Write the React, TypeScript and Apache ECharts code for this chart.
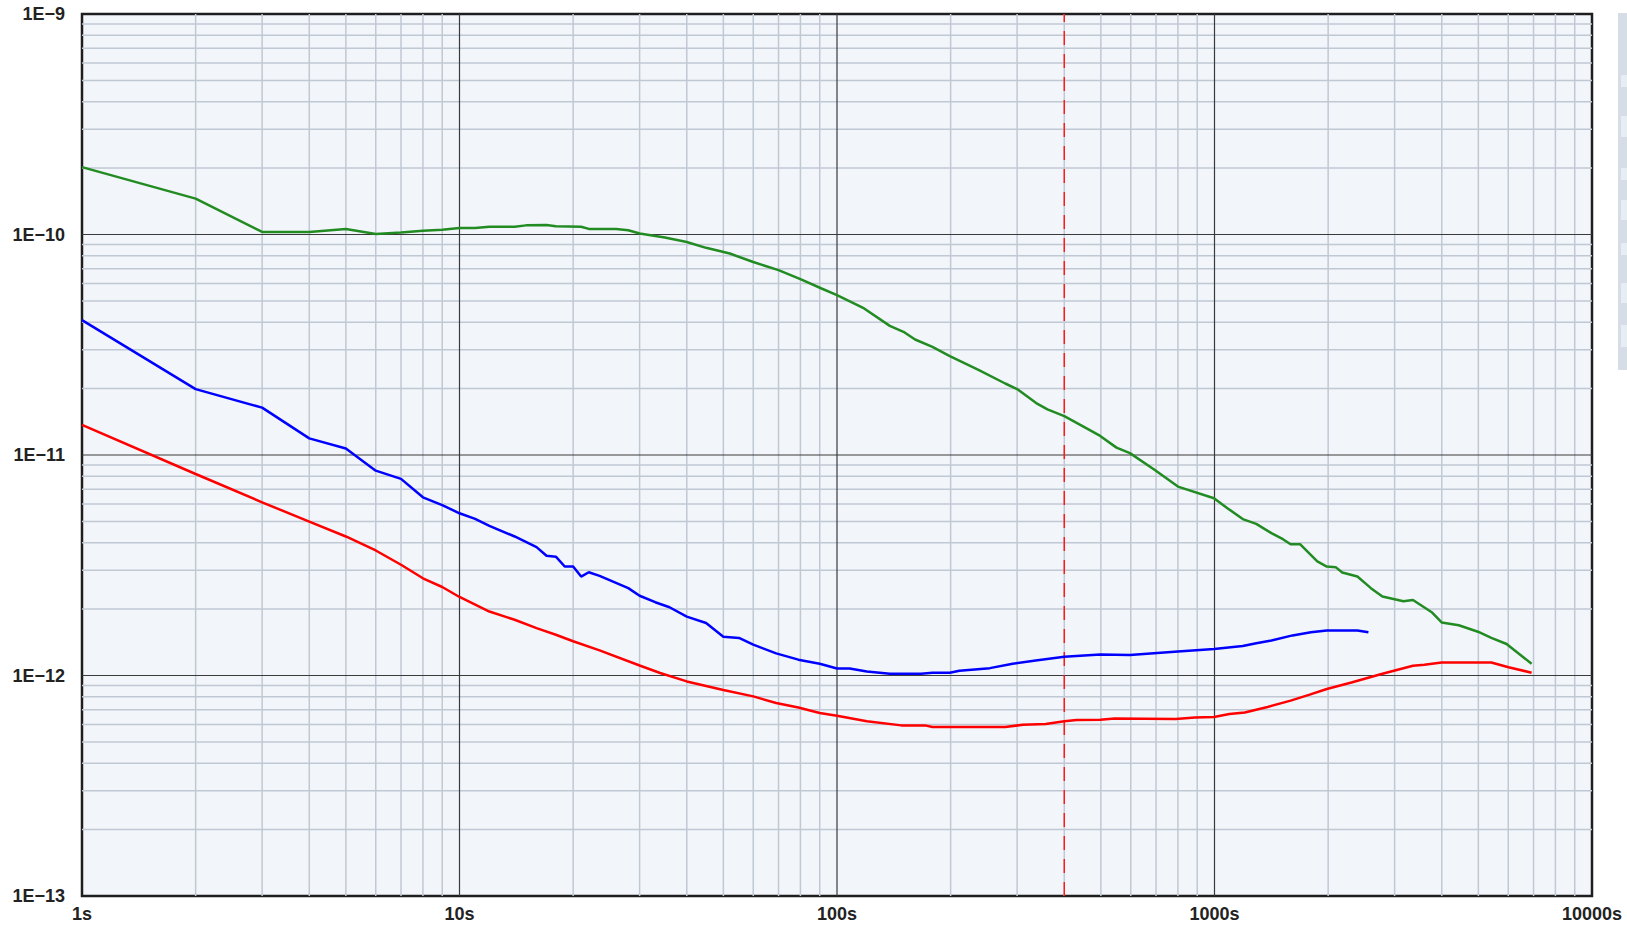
import React, { useEffect, useRef } from "react";
import * as echarts from "echarts";

// ---- data ----
const greenSeries: [number, number][] = [
  [1, 2.02e-10], [2, 1.455e-10], [3, 1.027e-10], [4, 1.027e-10], [5, 1.06e-10], [6, 1.006e-10],
  [7, 1.02e-10], [8, 1.04e-10], [9, 1.05e-10], [10, 1.07e-10], [11, 1.07e-10], [12, 1.085e-10],
  [14, 1.085e-10], [15, 1.1e-10], [17, 1.105e-10], [18, 1.09e-10], [21, 1.085e-10], [22, 1.06e-10],
  [26, 1.06e-10], [28, 1.045e-10], [30, 1.01e-10], [35, 9.7e-11], [40, 9.25e-11], [45, 8.7e-11],
  [52, 8.2e-11], [60, 7.5e-11], [70, 6.89e-11], [80, 6.27e-11], [91, 5.69e-11], [100, 5.31e-11],
  [118, 4.62e-11], [138, 3.85e-11], [150, 3.62e-11], [161, 3.34e-11], [179, 3.09e-11], [199, 2.81e-11],
  [237, 2.43e-11], [279, 2.11e-11], [300, 1.99e-11], [337, 1.72e-11], [361, 1.61e-11], [400, 1.5e-11],
  [441, 1.37e-11], [498, 1.22e-11], [550, 1.08e-11], [597, 1.02e-11], [695, 8.55e-12], [800, 7.19e-12],
  [997, 6.37e-12], [1082, 5.74e-12], [1188, 5.12e-12], [1290, 4.87e-12], [1415, 4.42e-12], [1518, 4.15e-12],
  [1591, 3.94e-12], [1685, 3.94e-12], [1872, 3.29e-12], [1984, 3.12e-12], [2094, 3.1e-12], [2180, 2.93e-12],
  [2391, 2.81e-12], [2596, 2.49e-12], [2785, 2.28e-12], [3165, 2.17e-12], [3355, 2.2e-12], [3772, 1.93e-12],
  [3997, 1.74e-12], [4437, 1.69e-12], [4988, 1.58e-12], [5412, 1.48e-12], [5939, 1.39e-12], [6918, 1.13e-12],
];

const blueSeries: [number, number][] = [
  [1, 4.09e-11], [2, 1.99e-11], [3, 1.64e-11], [4, 1.19e-11], [5, 1.07e-11], [6, 8.49e-12],
  [7, 7.79e-12], [8, 6.43e-12], [9, 5.93e-12], [10, 5.44e-12], [11, 5.13e-12], [12, 4.77e-12],
  [14, 4.27e-12], [16, 3.82e-12], [17, 3.49e-12], [18, 3.46e-12], [19, 3.12e-12], [20, 3.12e-12],
  [21, 2.81e-12], [22, 2.94e-12], [23.5, 2.83e-12], [28, 2.49e-12], [30, 2.3e-12], [33, 2.15e-12],
  [36, 2.04e-12], [40, 1.85e-12], [45, 1.73e-12], [50, 1.5e-12], [55, 1.48e-12], [60, 1.38e-12],
  [69, 1.26e-12], [79, 1.18e-12], [90, 1.13e-12], [100, 1.076e-12], [108, 1.076e-12], [120, 1.043e-12],
  [138, 1.018e-12], [167, 1.018e-12], [179, 1.03e-12], [199, 1.03e-12], [211, 1.05e-12], [254, 1.08e-12],
  [292, 1.13e-12], [336, 1.17e-12], [400, 1.215e-12], [498, 1.245e-12], [597, 1.24e-12], [800, 1.285e-12],
  [997, 1.32e-12], [1188, 1.36e-12], [1290, 1.4e-12], [1415, 1.44e-12], [1610, 1.52e-12], [1800, 1.57e-12],
  [1984, 1.6e-12], [2391, 1.6e-12], [2557, 1.57e-12],
];

const redSeries: [number, number][] = [
  [1, 1.37e-11], [2, 8.2e-12], [3, 6.1e-12], [4, 4.99e-12], [5, 4.27e-12], [6, 3.69e-12],
  [7, 3.18e-12], [8, 2.76e-12], [9, 2.52e-12], [10, 2.27e-12], [12, 1.95e-12], [14, 1.79e-12],
  [16, 1.64e-12], [18, 1.53e-12], [20, 1.43e-12], [23.5, 1.3e-12], [30, 1.11e-12], [34, 1.026e-12],
  [40, 9.4e-13], [50, 8.6e-13], [60, 8.04e-13], [69, 7.5e-13], [79, 7.16e-13], [90, 6.76e-13],
  [100, 6.57e-13], [120, 6.2e-13], [148, 5.94e-13], [171, 5.94e-13], [179, 5.84e-13], [279, 5.84e-13],
  [311, 5.98e-13], [357, 6.03e-13], [400, 6.2e-13], [431, 6.28e-13], [498, 6.3e-13], [544, 6.39e-13],
  [789, 6.35e-13], [888, 6.45e-13], [997, 6.48e-13], [1095, 6.69e-13], [1203, 6.8e-13], [1382, 7.2e-13],
  [1591, 7.69e-13], [1787, 8.19e-13], [1984, 8.69e-13], [2305, 9.3e-13], [2785, 1.018e-12], [3355, 1.107e-12],
  [3597, 1.12e-12], [3997, 1.146e-12], [5412, 1.146e-12], [6010, 1.09e-12], [6918, 1.03e-12],
];

const markerX = 400;

const xMin = 1;
const xMax = 10000;
const yMin = 1e-13;
const yMax = 1e-9;
const xMajor = [10, 100, 1000];
const yMajor = [1e-12, 1e-11, 1e-10];
const xDecades = [1, 10, 100, 1000];
const yDecades = [1e-13, 1e-12, 1e-11, 1e-10];
const minorMultipliers = [2, 3, 4, 5, 6, 7, 8, 9];

export default function App() {
  const ref = useRef<HTMLDivElement>(null);

  useEffect(() => {
    if (!ref.current) return;
    const chart = echarts.init(ref.current, undefined, { renderer: "svg" });

    const xMinor: number[] = [];
    xDecades.forEach((d) => minorMultipliers.forEach((m) => xMinor.push(m * d)));
    const yMinor: number[] = [];
    yDecades.forEach((d) => minorMultipliers.forEach((m) => yMinor.push(+(m * d).toPrecision(3))));

    const fontFamily = "'Liberation Sans', Arial, sans-serif";

    const gridLine = (pts: [number, number][], color: string, width: number, z: number, type: any = "solid") => ({
      type: "line",
      data: pts,
      showSymbol: false,
      silent: true,
      z,
      lineStyle: { color, width, type },
      itemStyle: { color },
      emphasis: { disabled: true },
    });

    const minorSeries = [
      ...xMinor.map((v) => gridLine([[v, yMin], [v, yMax]], "#c0c8d3", 1.5, 1)),
      ...yMinor.map((v) => gridLine([[xMin, v], [xMax, v]], "#c0c8d3", 1.5, 1)),
    ];
    const majorSeries = [
      ...xMajor.map((v) => gridLine([[v, yMin], [v, yMax]], "#3a3a3a", 1.2, 1.5)),
      ...yMajor.map((v) => gridLine([[xMin, v], [xMax, v]], "#3a3a3a", 1.2, 1.5)),
    ];
    const markerSeries = gridLine([[markerX, yMin], [markerX, yMax]], "#ff1a1a", 1.5, 2, [14, 9]);

    const option: any = {
      animation: false,
      grid: {
        left: 82,
        top: 14,
        width: 1510,
        height: 882,
        show: true,
        backgroundColor: "#f2f6fb",
        borderColor: "#1e1e1e",
        borderWidth: 2.5,
      },
      xAxis: {
        type: "log",
        logBase: 10,
        min: xMin,
        max: xMax,
        axisLine: { show: false },
        axisTick: { show: false },
        splitLine: { show: false },
        axisLabel: {
          margin: 9,
          fontSize: 18,
          fontWeight: "bold",
          fontFamily,
          color: "#222",
          formatter: (v: number) => `${Math.round(v)}s`,
        },
      },
      yAxis: {
        type: "log",
        logBase: 10,
        min: yMin,
        max: yMax,
        axisLine: { show: false },
        axisTick: { show: false },
        splitLine: { show: false },
        axisLabel: {
          margin: 17,
          fontSize: 18,
          fontWeight: "bold",
          fontFamily,
          color: "#222",
          formatter: (v: number) => `1E\u2212${-Math.round(Math.log10(v))}`,
        },
      },
      series: [
        ...minorSeries,
        ...majorSeries,
        markerSeries,
        {
          type: "line",
          data: greenSeries,
          showSymbol: false,
          z: 3,
          lineStyle: { color: "#228b22", width: 2.5 },
          itemStyle: { color: "#228b22" },
        },
        {
          type: "line",
          data: blueSeries,
          showSymbol: false,
          z: 3,
          lineStyle: { color: "#0000ff", width: 2.5 },
          itemStyle: { color: "#0000ff" },
        },
        {
          type: "line",
          data: redSeries,
          showSymbol: false,
          z: 3,
          lineStyle: { color: "#ff0000", width: 2.5 },
          itemStyle: { color: "#ff0000" },
        },
      ],
      graphic: [
        {
          type: "group",
          left: 1618,
          top: 13,
          children: [
            { type: "rect", shape: { x: 0, y: 0, width: 12, height: 357 }, style: { fill: "#d6dde7" } },
            { type: "rect", shape: { x: 3, y: 62, width: 9, height: 12 }, style: { fill: "#e8edf3" } },
            { type: "rect", shape: { x: 3, y: 103, width: 9, height: 21 }, style: { fill: "#e8edf3" } },
            { type: "rect", shape: { x: 3, y: 155, width: 9, height: 12 }, style: { fill: "#e8edf3" } },
            { type: "rect", shape: { x: 3, y: 187, width: 9, height: 20 }, style: { fill: "#e8edf3" } },
            { type: "rect", shape: { x: 3, y: 230, width: 9, height: 12 }, style: { fill: "#e8edf3" } },
            { type: "rect", shape: { x: 3, y: 270, width: 9, height: 20 }, style: { fill: "#e8edf3" } },
            { type: "rect", shape: { x: 3, y: 312, width: 9, height: 22 }, style: { fill: "#e8edf3" } },
          ],
        },
      ],
    };

    chart.setOption(option);
    return () => chart.dispose();
  }, []);

  return (
    <div
      ref={ref}
      style={{ position: "absolute", left: 0, top: 0, width: 1627, height: 927 }}
    />
  );
}
